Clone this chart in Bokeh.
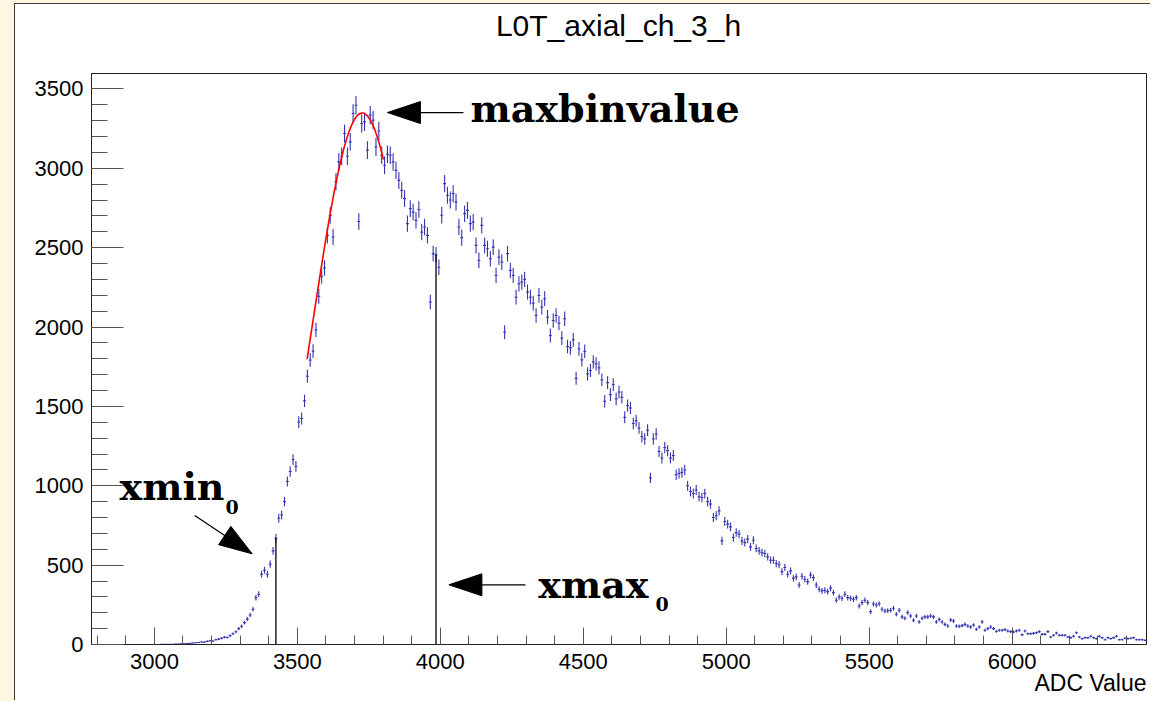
import numpy as np
from bokeh.plotting import figure
from bokeh.models import Label, SingleIntervalTicker, Range1d, Div, Title
from bokeh.layouts import column
from bokeh.embed import file_html
from bokeh.resources import INLINE

# ---- histogram contents (10 ADC counts per bin, centres at x5) ----
BIN_WIDTH = 10

rise_start = 2785
rise_counts = [0] * 24 + [
    1, 1, 1, 2, 2, 3, 3, 4, 5, 6,
    7, 9, 11, 13, 16, 15, 20, 24, 22, 30,
    34, 40, 46, 44, 56, 68, 80, 100, 115, 138,
    160, 186, 222, 295, 317, 443, 468, 443,
]

peak_start = 3405
peak_counts = [
    506, 590, 670, 795, 816, 900, 1027, 1090, 1165, 1122,
    1401, 1424, 1535, 1690, 1792, 1848, 1982, 2193, 2320, 2372,
    2577, 2703, 2567, 2914, 3040, 3076, 3219, 3076, 3166, 3345,
    3397, 2665, 3282, 3292, 3114, 3335, 3303, 3134, 3235, 3082,
    3019, 3088, 3082, 3040, 2987, 2924, 2861, 2809, 2651, 2746,
    2724, 2672, 2740, 2598, 2630, 2577, 2157, 2462, 2455, 2377,
]

fall_start = 4005
fall_counts = [
    2704, 2903, 2830, 2800, 2840, 2787, 2630, 2563, 2714, 2735,
    2651, 2661, 2514, 2420, 2640, 2514, 2493, 2430, 2503, 2325,
    2440, 2409, 1967, 2462, 2356, 2325, 2188, 2272, 2283, 2300,
    2220, 2188, 2150, 2073, 2199, 2125, 2178, 2062, 1946, 2041,
    2073, 2024, 1930, 2052, 1877, 1869, 1919, 1677, 1862, 1793,
    1847, 1705, 1726, 1780, 1768, 1743, 1667, 1532, 1650, 1574,
    1637, 1547, 1590, 1557, 1431, 1505, 1490, 1393, 1410, 1364,
    1309, 1295, 1350, 1049, 1295, 1326, 1216, 1175, 1240, 1221,
    1175, 1190, 1069, 1078, 1084, 1099, 1000, 964, 951, 973,
    931, 926, 951, 900, 885, 800, 811, 842, 653, 775,
]

tail_start = 5005
tail_counts = [
    758, 741, 674, 705, 695, 653, 642, 664, 615, 657,
    605, 590, 579, 573, 552, 531, 531, 510, 502, 459,
    485, 443, 464, 418, 426, 375, 430, 411, 396, 438,
    421, 375, 348, 338, 342, 333, 355, 327, 279, 300,
    291, 317, 295, 291, 285, 295, 243, 264, 279, 264,
    207, 255, 249, 257, 222, 211, 213, 216, 228, 191,
    216, 174, 165, 201, 180, 153, 180, 142, 165, 174,
    174, 180, 174, 142, 158, 142, 127, 117, 154, 148,
    117, 115, 119, 127, 117, 110, 123, 96, 110, 142,
    90, 100, 110, 100, 83, 90, 90, 94, 85, 81,
    79, 85, 90, 62, 85, 68, 68, 70, 74, 81,
    64, 64, 81, 47, 58, 72, 58, 58, 58, 47,
    43, 52, 74, 47, 37, 43, 43, 52, 43, 37,
    52, 43, 30, 43, 37, 43, 52, 30, 30, 39,
    37, 39, 43, 30, 30, 30, 26,
]

# Gaussian fit around the maximum
FIT_CONST, FIT_MEAN, FIT_SIGMA = 3348.0, 3727.0, 173.0
FIT_LO, FIT_HI = 3534.0, 3801.0

# marked bins
XMIN0 = 3425
XMAX0 = 3985

# axis ranges
X_LO, X_HI = 2780, 6470
Y_LO, Y_HI = 0, 3597

TITLE = "L0T_axial_ch_3_h"
X_TITLE = "ADC Value"

# annotation anchors (data units)
MAXBIN_TEXT = (4106, 3377)
XMIN_TEXT = (2878, 993)
XMIN_SUB = (3249, 869)
XMAX_TEXT = (4343, 378)
XMAX_SUB = (4753, 258)
ARROWS = [
    ((4081, 3351), (3815, 3351)),   # maxbinvalue
    ((3141, 813), (3342, 571)),     # xmin_0
    ((4298, 376), (4030, 376)),     # xmax_0
]

# ---- assemble bins ----
def centres(start, n):
    return start + BIN_WIDTH * np.arange(n)

xs = np.concatenate([
    centres(rise_start, len(rise_counts)),
    centres(peak_start, len(peak_counts)),
    centres(fall_start, len(fall_counts)),
    centres(tail_start, len(tail_counts)),
]).astype(float)
ys = np.array(rise_counts + peak_counts + fall_counts + tail_counts, dtype=float)

keep = ys > 0
hx, hy = xs[keep], ys[keep]
err = np.sqrt(hy)

FRAME_W, FRAME_H = 1055, 571
TITLE_H = 60
p = figure(
    width=1136, height=697 - TITLE_H,
    frame_width=FRAME_W, frame_height=FRAME_H,
    min_border_left=76, min_border_right=5,
    min_border_top=9, min_border_bottom=57,
    x_range=Range1d(X_LO, X_HI), y_range=Range1d(Y_LO, Y_HI),
    output_backend="svg", toolbar_location=None,
    background_fill_color="white", border_fill_color="white",
)
p.margin = 0
p.outline_line_color = "#202020"
p.outline_line_width = 1
p.xgrid.visible = False
p.ygrid.visible = False

for ax in (p.xaxis[0], p.yaxis[0]):
    ax.ticker = SingleIntervalTicker(interval=500, num_minor_ticks=5)
    ax.major_label_text_font = "Liberation Sans"
    ax.major_label_text_font_size = "22px"
    ax.major_label_text_color = "black"
    ax.axis_line_color = "#202020"
    ax.major_tick_line_color = "#555555"
    ax.minor_tick_line_color = "#555555"
    ax.major_tick_out = 0
    ax.minor_tick_out = 0
p.xaxis.major_tick_in = 17
p.xaxis.minor_tick_in = 9
p.xaxis.major_label_standoff = 9
p.yaxis.major_tick_in = 32
p.yaxis.minor_tick_in = 16
p.yaxis.major_label_standoff = 8

# x-axis title, right-aligned under the frame
x_title = Title(text=X_TITLE, align="right", vertical_align="top", offset=0,
                text_font="Liberation Sans", text_font_size="23px",
                text_font_style="normal", text_color="black")
try:
    x_title.standoff = -4
except ValueError:
    x_title.standoff = 0
p.add_layout(x_title, "below")

# histogram error bars
bar_color = "#3434b0"
p.segment(hx, hy - err, hx, hy + err, line_color=bar_color, line_width=1.1)
p.segment(hx - BIN_WIDTH / 2, hy, hx + BIN_WIDTH / 2, hy, line_color=bar_color, line_width=1.1)

# fit curve
fx = np.linspace(FIT_LO, FIT_HI, 200)
fy = FIT_CONST * np.exp(-0.5 * ((fx - FIT_MEAN) / FIT_SIGMA) ** 2)
p.line(fx, fy, line_color="#ff0000", line_width=1.6)

# vertical markers at xmin_0 / xmax_0 reaching the bin content
lx = [XMIN0, XMAX0]
ly = [float(ys[np.argmin(np.abs(xs - v))]) for v in lx]
p.segment(lx, [0, 0], lx, ly, line_color="black", line_width=1.3)

# arrows: shaft plus filled triangular head (head size given in pixels)
sx = FRAME_W / (X_HI - X_LO)
sy = FRAME_H / (Y_HI - Y_LO)
HEAD_LEN, HEAD_HALF = 33.0, 11.0
sh_x0, sh_y0, sh_x1, sh_y1, head_xs, head_ys = [], [], [], [], [], []
for (tx, ty), (px_, py_) in ARROWS:
    dx, dy = (px_ - tx) * sx, (py_ - ty) * sy
    n = np.hypot(dx, dy)
    ux, uy = dx / n, dy / n
    bx, by = -HEAD_LEN * ux, -HEAD_LEN * uy
    nx, ny = -uy * HEAD_HALF, ux * HEAD_HALF
    base = (px_ + bx / sx, py_ + by / sy)
    sh_x0.append(tx); sh_y0.append(ty); sh_x1.append(base[0]); sh_y1.append(base[1])
    head_xs.append([px_, base[0] + nx / sx, base[0] - nx / sx])
    head_ys.append([py_, base[1] + ny / sy, base[1] - ny / sy])
p.segment(sh_x0, sh_y0, sh_x1, sh_y1, line_color="black", line_width=1.3)
p.patches(head_xs, head_ys, fill_color="black", line_color="black", line_width=1)

def serif(x, y, txt, size):
    p.add_layout(Label(x=x, y=y, text=txt, text_align="left", text_baseline="alphabetic",
                       text_font="DejaVu Serif", text_font_style="bold",
                       text_font_size=size, text_color="black"))

serif(*MAXBIN_TEXT, "maxbinvalue", "38px")
serif(*XMIN_TEXT, "xmin", "38px")
serif(*XMIN_SUB, "0", "19px")
serif(*XMAX_TEXT, "xmax", "38px")
serif(*XMAX_SUB, "0", "19px")

# histogram title, centred over the frame
title_div = Div(
    text=TITLE, width=1136, height=TITLE_H, margin=0,
    styles={"font-family": "Liberation Sans", "font-size": "30px", "color": "black",
            "text-align": "center", "line-height": "43px", "background-color": "white",
            "padding-left": "76px", "padding-right": "5px", "box-sizing": "border-box"},
)

canvas = column(title_div, p, margin=(4, 0, 0, 15), spacing=0,
                styles={"background-color": "white", "box-shadow": "-1px -1px 0 0 #3c3c3c"})
layout = column(canvas, styles={"background-color": "#fcf6e3"}, width=1151, height=701)

open("out.html", "w").write(file_html(layout, INLINE))
